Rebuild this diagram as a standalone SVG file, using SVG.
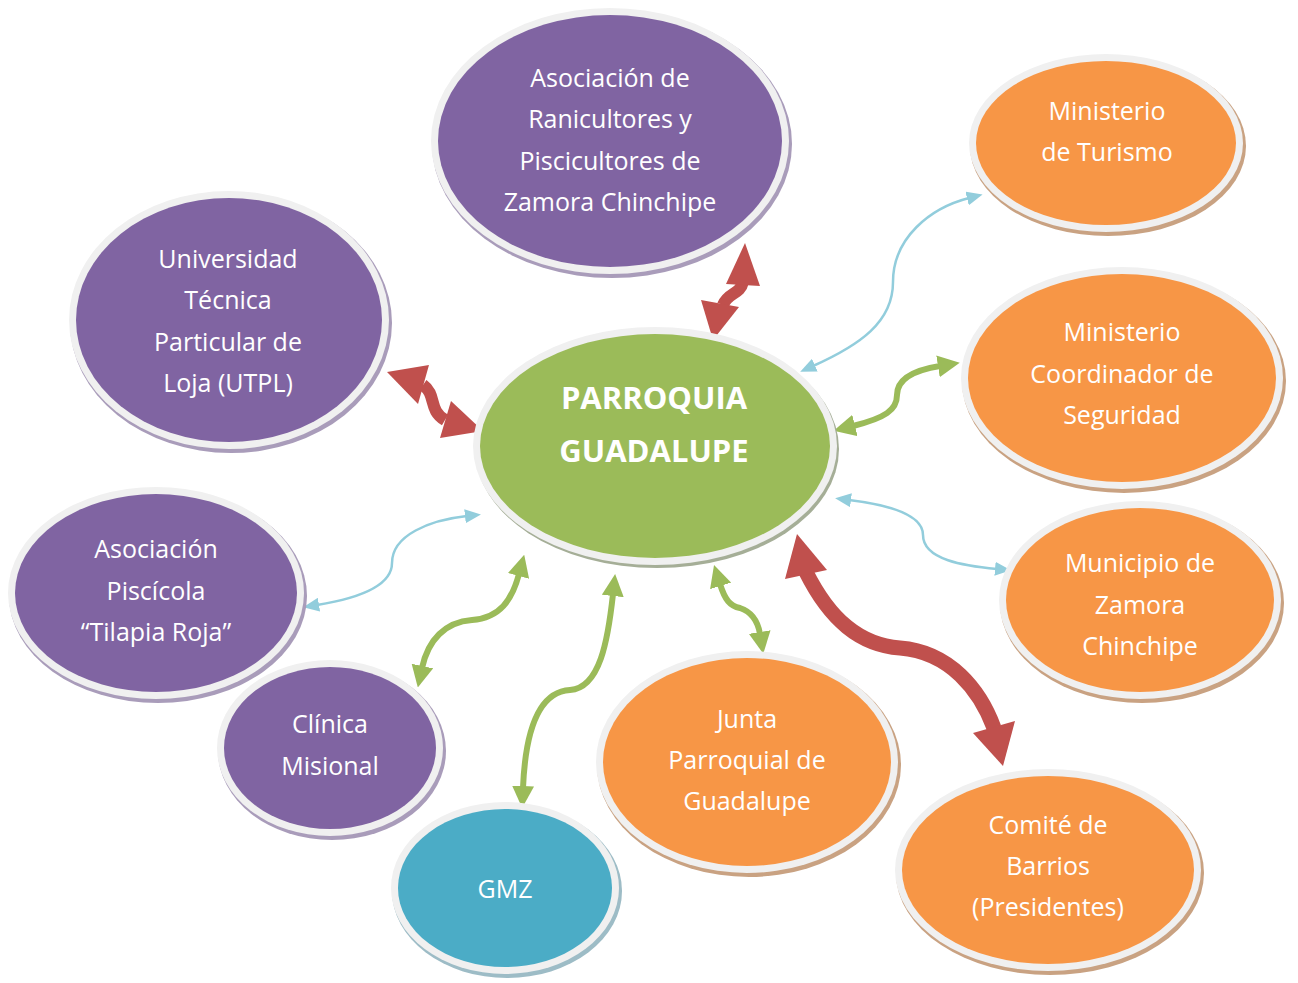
<svg xmlns="http://www.w3.org/2000/svg" width="1298" height="983" viewBox="0 0 1298 983">
<style>
.ring{fill:#f0f0f0}
.sp{fill:#a99cba}
.so{fill:#c9a282}
.sg{fill:#a5ae97}
.st{fill:#9dbcc6}
.p{fill:#8064a2}
.o{fill:#f79646}
.g{fill:#9bbb59}
.t{fill:#4bacc6}
text{font-family:"Open Sans","Liberation Sans",sans-serif;font-size:25px;fill:#ffffff;text-anchor:middle}
.big{font-size:31px;font-weight:bold}
.blue{fill:none;stroke:#92cddc;stroke-width:2.5}
.grn{fill:none;stroke:#9bbb59;stroke-width:6}
.red{fill:none;stroke:#c0504d;stroke-width:12}
.redh{fill:#c0504d}
</style>
<defs>
<marker id="mb" viewBox="0 0 16 14" markerWidth="16" markerHeight="14" refX="2" refY="7" orient="auto-start-reverse" markerUnits="userSpaceOnUse"><path d="M0,0 L16,7 L0,14 z" fill="#92cddc"/></marker>
<marker id="mg" viewBox="0 0 22 22" markerWidth="22" markerHeight="22" refX="2" refY="11" orient="auto-start-reverse" markerUnits="userSpaceOnUse"><path d="M0,0 L22,11 L0,22 z" fill="#9bbb59"/></marker>
</defs>

<g id="connectors">
<path class="blue" d="M 813,366 C 860,345 893,322 893,282 C 893,238 930,208 969,198" marker-start="url(#mb)" marker-end="url(#mb)"/>
<path class="blue" d="M 317,605 C 360,598 392,585 392,563 C 392,535 430,520 467,516" marker-start="url(#mb)" marker-end="url(#mb)"/>
<path class="blue" d="M 849,500 C 890,505 923,515 923,535 C 923,560 965,566 997,569" marker-start="url(#mb)" marker-end="url(#mb)"/>
<path class="grn" d="M 853,426 C 885,418 897,410 897,395 C 897,378 915,370 940,366" marker-start="url(#mg)" marker-end="url(#mg)"/>
<path class="grn" d="M 519,574 C 512,600 500,618 472,620 C 445,622 428,640 422,668" marker-start="url(#mg)" marker-end="url(#mg)"/>
<path class="grn" d="M 613,594 C 608,640 600,688 570,690 C 535,692 525,740 523,788" marker-start="url(#mg)" marker-end="url(#mg)"/>
<path class="grn" d="M 720,584 C 725,600 730,606 740,608 C 752,612 758,622 760,634" marker-start="url(#mg)" marker-end="url(#mg)"/>
<path class="red" d="M 743,282 C 740,295 728,292 723,305"/>
<polygon class="redh" points="745,243 726,284 760,286"/>
<polygon class="redh" points="713,340 701,300 739,307"/>
<path class="red" d="M 423,385 C 437,395 428,410 445,420"/>
<polygon class="redh" points="387,372 429,365 418,404"/>
<polygon class="redh" points="483,431 451,401 440,438"/>
<path class="red" style="stroke-width:15" d="M 806,572 C 830,620 860,645 900,648 C 950,652 980,690 994,728"/>
<polygon class="redh" points="797,534 785,579 827,570"/>
<polygon class="redh" points="1003,766 973,733 1015,721"/>
</g>

<g id="n-ranicultores">
<ellipse class="sp" cx="612" cy="144" rx="180" ry="134"/>
<ellipse class="ring" cx="610" cy="141" rx="179" ry="133"/>
<ellipse class="p" cx="610" cy="141" rx="172" ry="126"/>
<text x="610" y="87">Asociación de</text>
<text x="610" y="128">Ranicultores y</text>
<text x="610" y="170">Piscicultores de</text>
<text x="610" y="211">Zamora Chinchipe</text>
</g>

<g id="n-utpl">
<ellipse class="sp" cx="231" cy="323" rx="161" ry="130"/>
<ellipse class="ring" cx="229" cy="320" rx="160" ry="129"/>
<ellipse class="p" cx="229" cy="320" rx="153" ry="122"/>
<text x="228" y="268">Universidad</text>
<text x="228" y="309">Técnica</text>
<text x="228" y="351">Particular de</text>
<text x="228" y="392">Loja (UTPL)</text>
</g>

<g id="n-piscicola">
<ellipse class="sp" cx="158" cy="596" rx="149" ry="107"/>
<ellipse class="ring" cx="156" cy="593" rx="148" ry="106"/>
<ellipse class="p" cx="156" cy="593" rx="141" ry="99"/>
<text x="156" y="558">Asociación</text>
<text x="156" y="600">Piscícola</text>
<text x="156" y="641">“Tilapia Roja”</text>
</g>

<g id="n-clinica">
<ellipse class="sp" cx="332" cy="751" rx="114" ry="89"/>
<ellipse class="ring" cx="330" cy="748" rx="113" ry="88"/>
<ellipse class="p" cx="330" cy="748" rx="106" ry="81"/>
<text x="330" y="733">Clínica</text>
<text x="330" y="775">Misional</text>
</g>

<g id="n-gmz">
<ellipse class="st" cx="507" cy="891" rx="115" ry="87"/>
<ellipse class="ring" cx="505" cy="888" rx="114" ry="86"/>
<ellipse class="t" cx="505" cy="888" rx="107" ry="79"/>
<text x="505" y="898">GMZ</text>
</g>

<g id="n-junta">
<ellipse class="so" cx="749" cy="765" rx="152" ry="112"/>
<ellipse class="ring" cx="747" cy="762" rx="151" ry="111"/>
<ellipse class="o" cx="747" cy="762" rx="144" ry="104"/>
<text x="747" y="728">Junta</text>
<text x="747" y="769">Parroquial de</text>
<text x="747" y="810">Guadalupe</text>
</g>

<g id="n-comite">
<ellipse class="so" cx="1050" cy="873" rx="154" ry="102"/>
<ellipse class="ring" cx="1048" cy="870" rx="153" ry="101"/>
<ellipse class="o" cx="1048" cy="870" rx="146" ry="94"/>
<text x="1048" y="834">Comité de</text>
<text x="1048" y="875">Barrios</text>
<text x="1048" y="916">(Presidentes)</text>
</g>

<g id="n-municipio">
<ellipse class="so" cx="1142" cy="603" rx="142" ry="100"/>
<ellipse class="ring" cx="1140" cy="600" rx="141" ry="99"/>
<ellipse class="o" cx="1140" cy="600" rx="134" ry="92"/>
<text x="1140" y="572">Municipio de</text>
<text x="1140" y="614">Zamora</text>
<text x="1140" y="655">Chinchipe</text>
</g>

<g id="n-coordinador">
<ellipse class="so" cx="1124" cy="381" rx="162" ry="112"/>
<ellipse class="ring" cx="1122" cy="378" rx="161" ry="111"/>
<ellipse class="o" cx="1122" cy="378" rx="154" ry="104"/>
<text x="1122" y="341">Ministerio</text>
<text x="1122" y="383">Coordinador de</text>
<text x="1122" y="424">Seguridad</text>
</g>

<g id="n-turismo">
<ellipse class="so" cx="1108" cy="146" rx="138" ry="90"/>
<ellipse class="ring" cx="1106" cy="143" rx="137" ry="89"/>
<ellipse class="o" cx="1106" cy="143" rx="130" ry="82"/>
<text x="1107" y="120">Ministerio</text>
<text x="1107" y="161">de Turismo</text>
</g>

<g id="n-parroquia">
<ellipse class="sg" cx="657" cy="449" rx="182" ry="119"/>
<ellipse class="ring" cx="655" cy="446" rx="182" ry="119"/>
<ellipse class="g" cx="655" cy="446" rx="175" ry="112"/>
<text class="big" x="654" y="409">PARROQUIA</text>
<text class="big" x="654" y="462">GUADALUPE</text>
</g>
</svg>
